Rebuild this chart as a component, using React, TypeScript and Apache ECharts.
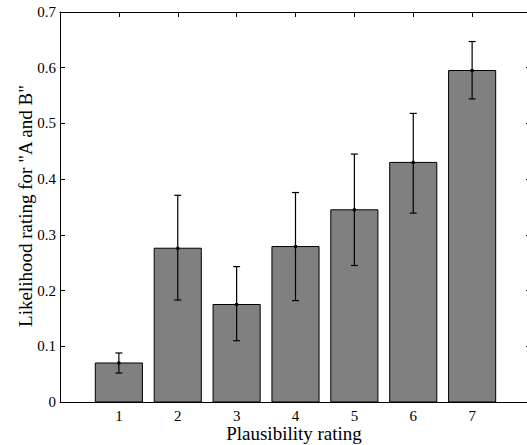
import React, { useEffect, useRef } from "react";
import * as echarts from "echarts";

const categories = [1, 2, 3, 4, 5, 6, 7];
const means = [0.070, 0.276, 0.175, 0.279, 0.345, 0.430, 0.595];
const errLow = [0.052, 0.183, 0.110, 0.182, 0.245, 0.339, 0.544];
const errHigh = [0.088, 0.371, 0.243, 0.376, 0.445, 0.518, 0.647];

const FONT = "Liberation Serif";

export default function App() {
  const ref = useRef<HTMLDivElement>(null);
  useEffect(() => {
    if (!ref.current) return;
    const chart = echarts.init(ref.current, null, { renderer: "svg" });
    const data = categories.map((c, i) => [c, means[i], errLow[i], errHigh[i]]);
    const fmtY = (v: number) => (v === 0 ? "0" : String(Math.round(v * 10) / 10));
    const axisLine = { show: true, onZero: false, lineStyle: { color: "#000", width: 1 } };
    const tick = { show: true, inside: true, length: 5, lineStyle: { color: "#000" } };
    chart.setOption({
      animation: false,
      backgroundColor: "#fff",
      grid: {
        left: 60,
        top: 12,
        right: -4,
        bottom: 43,
        containLabel: false,
        outerBoundsMode: "none",
      },
      xAxis: [
        {
          type: "value",
          min: 0,
          max: 8,
          interval: 1,
          position: "bottom",
          axisLine,
          axisTick: tick,
          axisLabel: {
            color: "#000",
            fontFamily: FONT,
            fontSize: 15,
            margin: 6,
            showMinLabel: false,
            showMaxLabel: false,
            formatter: (v: number) => (categories.includes(v) ? String(v) : ""),
          },
          splitLine: { show: false },
        },
        {
          type: "value",
          min: 0,
          max: 8,
          interval: 1,
          position: "top",
          axisLine,
          axisTick: tick,
          axisLabel: { show: false },
          splitLine: { show: false },
        },
      ],
      yAxis: [
        {
          type: "value",
          min: 0,
          max: 0.7,
          interval: 0.1,
          position: "left",
          axisLine,
          axisTick: tick,
          axisLabel: { color: "#000", fontFamily: FONT, fontSize: 15, margin: 4, formatter: fmtY },
          splitLine: { show: false },
        },
        {
          type: "value",
          min: 0,
          max: 0.7,
          interval: 0.1,
          position: "right",
          axisLine,
          axisTick: tick,
          axisLabel: { show: false },
          splitLine: { show: false },
        },
      ],
      graphic: [
        {
          type: "text",
          x: 25,
          y: 206,
          rotation: Math.PI / 2,
          style: {
            text: 'Likelihood rating for "A and B"',
            fill: "#000",
            font: `19px "${FONT}"`,
            align: "center",
            verticalAlign: "middle",
          },
        },
        {
          type: "text",
          x: 294,
          y: 433,
          style: {
            text: "Plausibility rating",
            fill: "#000",
            font: `19px "${FONT}"`,
            align: "center",
            verticalAlign: "middle",
          },
        },
      ],
      series: [
        {
          type: "custom",
          xAxisIndex: 0,
          yAxisIndex: 0,
          data,
          z: 5,
          renderItem: (params: any, api: any) => {
            const x = api.value(0);
            const m = api.value(1);
            const lo = api.value(2);
            const hi = api.value(3);
            const base = api.coord([x, 0]);
            const top = api.coord([x, m]);
            const pLo = api.coord([x, lo]);
            const pHi = api.coord([x, hi]);
            const unit = api.size([1, 0])[0];
            const w = unit * 0.8;
            const cap = 3.5;
            return {
              type: "group",
              children: [
                {
                  type: "rect",
                  shape: { x: base[0] - w / 2, y: top[1], width: w, height: base[1] - top[1] },
                  style: { fill: "#808080", stroke: "#000", lineWidth: 1 },
                },
                {
                  type: "line",
                  shape: { x1: top[0], y1: pLo[1], x2: top[0], y2: pHi[1] },
                  style: { stroke: "#000", lineWidth: 1.2 },
                },
                {
                  type: "line",
                  shape: { x1: top[0] - cap, y1: pLo[1], x2: top[0] + cap, y2: pLo[1] },
                  style: { stroke: "#000", lineWidth: 1.2 },
                },
                {
                  type: "line",
                  shape: { x1: top[0] - cap, y1: pHi[1], x2: top[0] + cap, y2: pHi[1] },
                  style: { stroke: "#000", lineWidth: 1.2 },
                },
                {
                  type: "rect",
                  shape: { x: top[0] - 1.5, y: top[1] - 1.5, width: 3, height: 3 },
                  style: { fill: "#000" },
                },
              ],
            };
          },
        },
      ],
    });
    return () => chart.dispose();
  }, []);
  return (
    <div style={{ position: "fixed", left: 0, top: 0, width: 527, height: 445, overflow: "hidden" }}>
      <div ref={ref} style={{ width: 527, height: 445, overflow: "hidden" }} />
    </div>
  );
}
